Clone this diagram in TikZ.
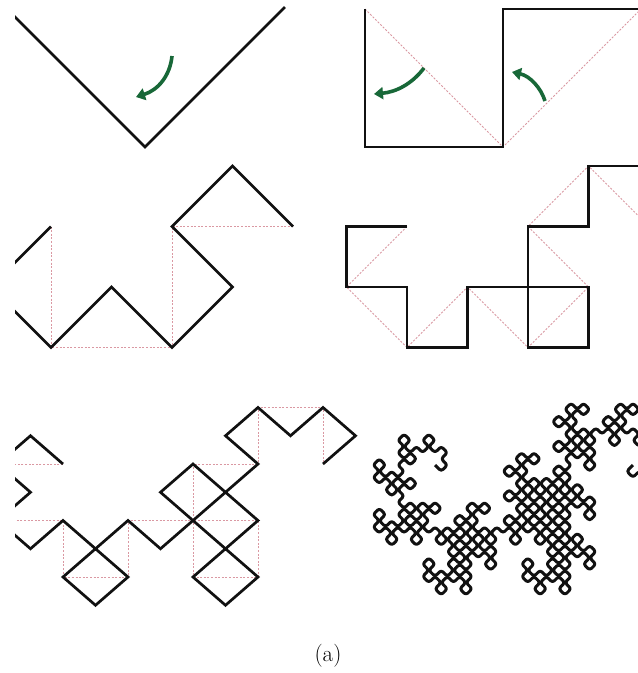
\documentclass[tikz,border=0pt]{standalone}
\usetikzlibrary{arrows.meta,lindenmayersystems}
\definecolor{curvecol}{RGB}{17,17,17}
\definecolor{foldcol}{RGB}{218,152,162}
\definecolor{arrowgreen}{RGB}{24,104,56}
\pgfdeclarelindenmayersystem{Dragon}{
  \symbol{X}{\pgflsystemdrawforward}
  \symbol{Y}{\pgflsystemdrawforward}
  \rule{X -> X+Y}
  \rule{Y -> X-Y}
}
\tikzset{
  curve/.style={draw=curvecol, line width=2.7pt, line join=miter, line cap=butt},
  fold/.style={draw=foldcol, line width=1pt, dash pattern=on 2pt off 1.6pt},
  turnarrow/.style={draw=arrowgreen, line width=3.6pt, line cap=butt,
    -{Triangle[length=9pt,width=12pt]}},
  dragonline/.style={draw=curvecol, line width=3pt, rounded corners=2.6pt, line join=round}
}
\begin{document}
\begin{tikzpicture}[x=1pt,y=-1pt]
\useasboundingbox[fill=white] (0,0) rectangle (638,673);

% ---------- panel 1 ----------
\begin{scope}
  \clip (15,0) rectangle (320,160);
  \draw[curve] (5,7) -- (145,147) -- (285,7);
  \draw[turnarrow] (172,56) .. controls (170,76) and (158,90) .. (136,97);
\end{scope}

% ---------- panel 2 ----------
\begin{scope}
  \clip (330,0) rectangle (638,160);
  \draw[fold] (365,9) -- (503,147) -- (641,9);
  \draw[curve] (365,9) -- (365,147) -- (503,147) -- (503,9) -- (645,9);
  \draw[turnarrow] (424,68) .. controls (412,84) and (396,92) .. (374,94);
  \draw[turnarrow] (545,101) .. controls (541,88) and (530,76) .. (512,72);
\end{scope}

% ---------- panel 3 ----------
\begin{scope}
  \clip (15,160) rectangle (330,360);
  \begin{scope}[shift={(51,226.5)}, x=60.5pt, y=-60.5pt]
    \draw[fold] (0,0) -- (0,2) -- (2,2) -- (2,0) -- (4,0);
    \draw[curve] (0,0) -- (-1,1) -- (0,2) -- (1,1) -- (2,2) -- (3,1) -- (2,0) -- (3,-1) -- (4,0);
  \end{scope}
\end{scope}

% ---------- panel 4 ----------
\begin{scope}
  \clip (330,160) rectangle (638,360);
  \begin{scope}[shift={(407,226.5)}, x=60.5pt, y=-60.5pt]
    \draw[fold] (0,0) -- (-1,1) -- (0,2) -- (1,1) -- (2,2) -- (3,1) -- (2,0) -- (3,-1) -- (4,0);
    \draw[curve] (0,0) -- (-1,0) -- (-1,1) -- (0,1) -- (0,2) -- (1,2) -- (1,1) -- (2,1)
      -- (2,2) -- (3,2) -- (3,1) -- (2,1) -- (2,0) -- (3,0) -- (3,-1) -- (4,-1) -- (4,0);
  \end{scope}
\end{scope}

% ---------- panel 5 ----------
\begin{scope}
  \clip (15,370) rectangle (365,620);
  \begin{scope}[shift={(63,464)}, x=65pt, y=-56.5pt]
    \draw[fold] (0,0) -- (-1,0) -- (-1,1) -- (0,1) -- (0,2) -- (1,2) -- (1,1) -- (2,1)
      -- (2,2) -- (3,2) -- (3,1) -- (2,1) -- (2,0) -- (3,0) -- (3,-1) -- (4,-1) -- (4,0);
    \draw[curve] (0,0) -- (-0.5,-0.5) -- (-1,0) -- (-0.5,0.5) -- (-1,1) -- (-0.5,1.5)
      -- (0,1) -- (0.5,1.5) -- (0,2) -- (0.5,2.5) -- (1,2) -- (0.5,1.5) -- (1,1)
      -- (1.5,1.5) -- (2,1) -- (2.5,1.5) -- (2,2) -- (2.5,2.5) -- (3,2) -- (2.5,1.5)
      -- (3,1) -- (2.5,0.5) -- (2,1) -- (1.5,0.5) -- (2,0) -- (2.5,0.5) -- (3,0)
      -- (2.5,-0.5) -- (3,-1) -- (3.5,-0.5) -- (4,-1) -- (4.5,-0.5) -- (4,0);
  \end{scope}
\end{scope}

% ---------- panel 6 ----------
\begin{scope}
  \clip (365,380) rectangle (638,620);
  \begin{scope}[shift={(435,465)}, rotate=-45]
    \draw[dragonline, lindenmayer system={Dragon, axiom=X, order=9, step=8.75pt, angle=90}]
      (0,0) lindenmayer system;
  \end{scope}
\end{scope}

% ---------- caption ----------
\node[inner sep=0pt] (caption) at (328,656) {\fontsize{23}{26}\selectfont (a)};
\end{tikzpicture}
\end{document}
